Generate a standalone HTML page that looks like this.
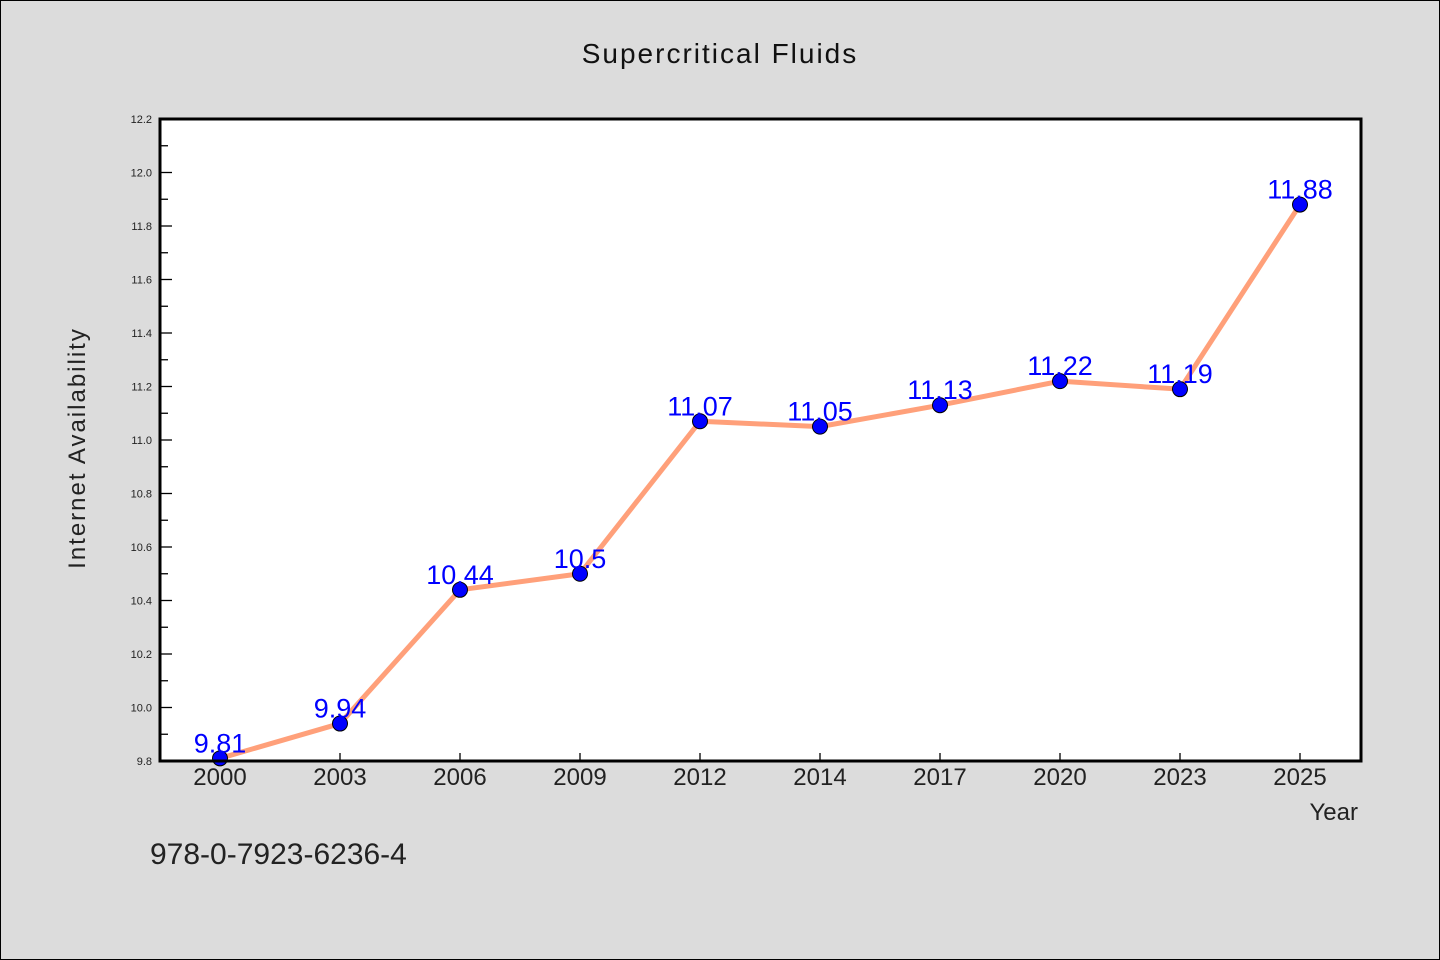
<!DOCTYPE html>
<html><head><meta charset="utf-8"><style>
body{margin:0;background:#dcdcdc;}
svg{display:block;font-family:"WenQuanYi Zen Hei","Liberation Sans",sans-serif;}
</style></head><body>
<svg width="1440" height="960">
<rect x="0.5" y="0.5" width="1439" height="959" fill="#dcdcdc" stroke="#000"/>
<text x="720" y="63" text-anchor="middle" font-size="28" letter-spacing="2" fill="#111">Supercritical Fluids</text>
<rect x="160" y="119" width="1201" height="642" fill="#fff"/>
<g id="yaxis"></g><g id="xaxis"></g><g id="series"></g>
<rect x="160" y="119" width="1201" height="642" fill="none" stroke="#000" stroke-width="3"/>
<text transform="translate(85,448) rotate(-90)" text-anchor="middle" font-size="24" letter-spacing="2" fill="#222">Internet Availability</text>
<text x="1358" y="820" text-anchor="end" font-size="24" fill="#222">Year</text>
<text x="150" y="864" font-size="30" fill="#222">978-0-7923-6236-4</text>
</svg>
<script>
const categories=["2000","2003","2006","2009","2012","2014","2017","2020","2023","2025"];
const values=[9.81,9.94,10.44,10.5,11.07,11.05,11.13,11.22,11.19,11.88];
const yTicks=["9.8","10.0","10.2","10.4","10.6","10.8","11.0","11.2","11.4","11.6","11.8","12.0","12.2"];
const yMin=9.8,yMax=12.2;
const NS="http://www.w3.org/2000/svg";
function y(v){return 761-(v-yMin)/(yMax-yMin)*642;}
function x(i){return 220+i*120;}
function mk(tag,attrs,parent){const e=document.createElementNS(NS,tag);for(const k in attrs)e.setAttribute(k,attrs[k]);parent.appendChild(e);return e;}
const ya=document.getElementById('yaxis'),xa=document.getElementById('xaxis'),se=document.getElementById('series');
yTicks.forEach((t,i)=>{const v=parseFloat(t),yy=y(v);
 const l=mk('line',{x1:160,x2:172,y1:yy,y2:yy,stroke:'#000','stroke-width':1.3},ya);
 
 
 const tx=mk('text',{x:152,y:yy+4,'text-anchor':'end','font-size':11,fill:'#222'},ya);tx.textContent=t;
 
 
 if(i<yTicks.length-1){const ym=y(v+0.1);
  const m=mk('line',{x1:160,x2:168,y1:ym,y2:ym,stroke:'#000','stroke-width':1.3},ya);
  
  }
});
categories.forEach((c,i)=>{
 const l=mk('line',{x1:x(i),x2:x(i),y1:761,y2:753,stroke:'#000','stroke-width':1.3},xa);
 
 
 const t=mk('text',{x:x(i),y:785,'text-anchor':'middle','font-size':24,fill:'#222'},xa);t.textContent=c;
 
 
});
const line=mk('polyline',{points:values.map((v,i)=>x(i)+','+y(v)).join(' '),fill:'none',stroke:'#ffa07a','stroke-width':5,'stroke-linejoin':'round'},se);


values.forEach((v,i)=>{
 const c=mk('circle',{cx:x(i),cy:y(v),r:7.5,fill:'#0000ff',stroke:'#000','stroke-width':1},se);
 
 
 const t=mk('text',{x:x(i),y:y(v)-6,'text-anchor':'middle','font-size':27,fill:'#0000ff'},se);t.textContent=String(v);
 
 
});
</script>
</body></html>
